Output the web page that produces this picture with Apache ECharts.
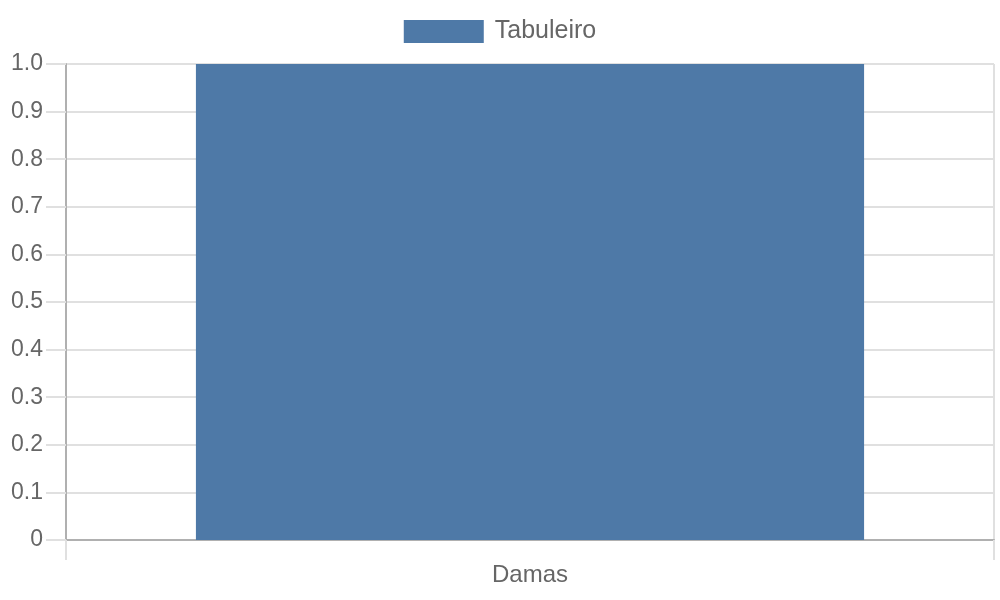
<!DOCTYPE html>
<html><head><meta charset="utf-8">
<script src="https://cdn.jsdelivr.net/npm/echarts@6/dist/echarts.min.js"></script>
<style>html,body{margin:0;padding:0;background:#fff}#c{width:1000px;height:600px}</style>
</head><body><div id="c"></div>
<script>
const categories = ['Damas'];
const seriesName = 'Tabuleiro';
const values = [1.0];
const chart = echarts.init(document.getElementById('c'));
chart.setOption({
  animation: false,
  textStyle: { fontFamily: 'Liberation Sans, Arial, sans-serif' },
  legend: {
    top: 14, left: 'center',
    itemWidth: 80, itemHeight: 23,
    icon: 'rect',
    textStyle: { fontSize: 25, color: '#666', padding: [0, 0, 0, 6] },
    data: [seriesName]
  },
  grid: { left: 66, right: 6, top: 64, bottom: 60, containLabel: false },
  xAxis: {
    type: 'category', data: categories,
    axisLine: { show: true, lineStyle: { color: '#b0b0b0', width: 2 } },
    axisTick: { show: true, length: 20, lineStyle: { color: '#e0e0e0', width: 2 } },
    splitLine: { show: true, lineStyle: { color: '#e0e0e0', width: 2 } },
    axisLabel: { fontSize: 24, color: '#666', margin: 23 }
  },
  yAxis: {
    type: 'value', min: 0, max: 1, interval: 0.1,
    axisLine: { show: true, lineStyle: { color: '#b0b0b0', width: 2 } },
    axisTick: { show: true, length: 20, lineStyle: { color: '#e0e0e0', width: 2 } },
    splitLine: { show: true, lineStyle: { color: '#e0e0e0', width: 2 } },
    axisLabel: { fontSize: 23, color: '#666', margin: 23, lineHeight: 26, verticalAlign: 'middle', padding: [4, 0, 0, 0],
      formatter: v => v === 0 ? '0' : v.toFixed(1) }
  },
  series: [{
    name: seriesName, type: 'bar', data: values, barWidth: '72%',
    itemStyle: { color: '#4e79a7' }
  }]
});
</script></body></html>
